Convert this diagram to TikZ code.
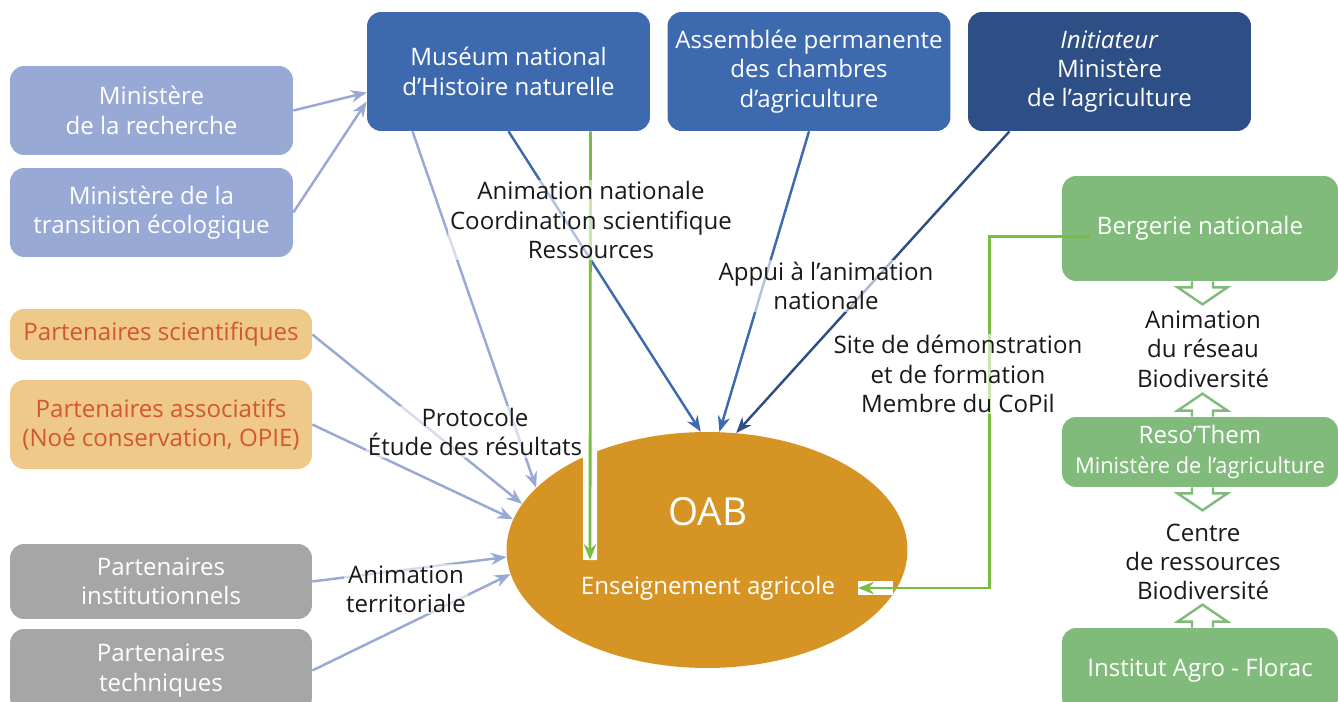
\documentclass[tikz,border=0pt]{standalone}
\usepackage{fontspec}
\setmainfont{Open Sans}
\usetikzlibrary{positioning, calc, arrows.meta, shapes.geometric}

\definecolor{mnhnblue}{HTML}{3D69AF}
\definecolor{initblue}{HTML}{2E4F86}
\definecolor{minblue}{HTML}{99A9D5}
\definecolor{partorange}{HTML}{EFC98A}
\definecolor{parttext}{HTML}{D2582B}
\definecolor{partgrey}{HTML}{A6A6A6}
\definecolor{resgreen}{HTML}{81BB7B}
\definecolor{linkgreen}{HTML}{7BBD42}
\definecolor{oabgold}{HTML}{D69425}

\begin{document}
\begin{tikzpicture}[
    x=0.02cm, y=-0.02cm,
    >={Stealth[length=9pt, width=7pt]},
    every node/.style={font=\fontsize{13.7}{16.7}\selectfont},
    box/.style={rounded corners=0.28cm, align=center, text=white, inner sep=2pt},
    minbox/.style={box, fill=minblue, minimum width=5.66cm, minimum height=1.78cm},
    topbox/.style={box, fill=mnhnblue, minimum width=5.66cm, minimum height=2.38cm},
    partbox/.style={box, fill=partorange, text=parttext, minimum width=6.04cm},
    greybox/.style={box, fill=partgrey, minimum width=6.04cm},
    resbox/.style={box, fill=resgreen, minimum width=5.52cm},
    lbl/.style={align=center, text=black!90, fill=white, fill opacity=0.6, text opacity=1, inner sep=1pt},
    minarrow/.style={->, draw=minblue, line width=1.4pt},
    toparrow/.style={->, draw=mnhnblue, line width=1.4pt},
    greenlink/.style={->, draw=linkgreen, line width=1.6pt},
    halo/.style={draw=white, line width=0.28cm},
    hollow/.style={draw=resgreen, fill=white, line width=1.4pt}
]
\useasboundingbox (0,0) rectangle (1338,702);

% ellipse au centre
\node[ellipse, fill=oabgold, minimum width=8.02cm, minimum height=4.72cm, inner sep=0pt] (oab) at (707,550) {};
\node[font=\fontsize{22}{26}\selectfont, text=white] (oabTxt) at (708,512) {OAB};
\node[text=white] (ens) at (708,588) {Enseignement agricole};

% ministeres a gauche
\node[minbox] (recherche) at (151.5,110.5) {Ministère\\de la recherche};
\node[minbox] (transition) at (151.5,212.5) {Ministère de la\\transition écologique};

% partenaires
\node[partbox, minimum height=1.02cm] (sci) at (161,334.5) {Partenaires scientifiques};
\node[partbox, minimum height=1.78cm] (assoc) at (161,424.5) {Partenaires associatifs\\(Noé conservation, OPIE)};
\node[greybox, minimum height=1.5cm] (instit) at (161,581.5) {Partenaires\\institutionnels};
\node[greybox, minimum height=1.66cm] (techn) at (161,670.5) {Partenaires\\techniques};

% boites du haut
\node[topbox] (museum) at (508.5,71.5) {Muséum national\\d’Histoire naturelle};
\node[topbox] (assemblee) at (809,71.5) {Assemblée permanente\\des chambres\\d’agriculture};
\node[topbox, fill=initblue] (init) at (1109.5,71.5) {\textit{Initiateur}\\Ministère\\de l’agriculture};

% reseau a droite
\node[resbox, minimum height=2.1cm] (bergerie) at (1200,228.5) {Bergerie nationale};
\node[resbox, minimum height=1.4cm] (reso) at (1200,452) {Reso’Them\\{\fontsize{12.4}{16.7}\selectfont Ministère de l’agriculture}};
\node[resbox, minimum height=1.68cm] (florac) at (1200,670) {Institut Agro - Florac};

% points d'arrivee des liens verts
\coordinate (ensIn) at (590,560);
\coordinate (ensRight) at (858,588);

% fonds blancs sous les fleches vertes
\draw[halo] ($(museum.south)+(82,0)$) -- (ensIn);
\draw[halo] (ensRight) -- ++(35,0);

% fleches vers le museum et l'OAB
\draw[minarrow] (recherche.east) -- ($(museum.west)+(0,21)$);
\draw[minarrow] (transition.east) -- ($(museum.west)+(0,30)$);
\draw[minarrow] ($(museum.south)+(-96,0)$) -- (oab.160.8);
\draw[minarrow] (sci.east) -- (oab.166);
\draw[minarrow] (assoc.east) -- (oab.171);
\draw[minarrow] (instit.east) -- (oab.182);
\draw[minarrow] (techn.east) -- (oab.187);
\draw[toparrow] (museum.south) -- (oab.93);
\draw[toparrow] (assemblee.south) -- (oab.84);
\draw[toparrow, draw=initblue] ($(init.south)+(-100,0)$) -- (oab.76);

% liens verts
\draw[greenlink] ($(museum.south)+(82,0)$) -- (ensIn);
\draw[greenlink] ($(bergerie.west)+(28,8)$) -- ++(-100,0) |- (ensRight);

% etiquettes
\node[lbl] (natLbl) at (591,220) {Animation nationale\\Coordination scientifique\\Ressources};
\node[lbl] (appuiLbl) at (826,286) {Appui à l’animation\\nationale};
\node[lbl] (siteLbl) at (958,374) {Site de démonstration\\et de formation\\Membre du CoPil};
\node[lbl] (protoLbl) at (475,432) {Protocole\\Étude des résultats};
\node[lbl] (terrLbl) at (406,589) {Animation\\territoriale};
\node[lbl] (reseauLbl) at (1203,349) {Animation\\du réseau\\Biodiversité};
\node[lbl] (centreLbl) at (1203,562) {Centre\\de ressources\\Biodiversité};

% fleches creuses
\foreach \a/\s in {bergerie.south/1, reso.south/1, reso.north/-1, florac.north/-1}
  \filldraw[hollow] ($(\a)+(-8,0)$) -- ++(0,{6*\s}) -- ++(-14.5,0) -- ++(25,{17*\s}) -- ++(25,{-17*\s}) -- ++(-14.5,0) -- ++(0,{-6*\s});

\end{tikzpicture}
\end{document}
